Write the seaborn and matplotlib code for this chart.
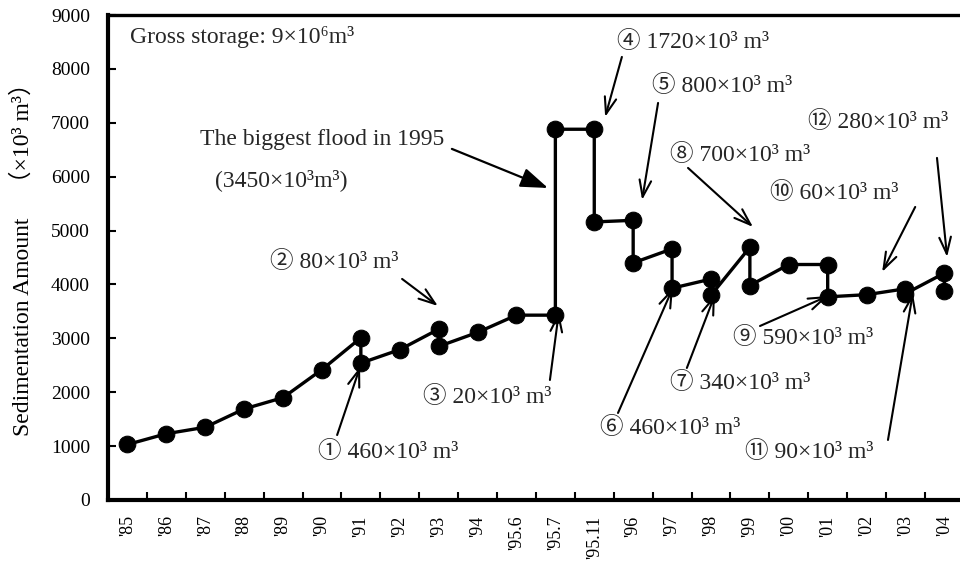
import matplotlib
matplotlib.use("Agg")
import matplotlib.pyplot as plt
import seaborn as sns
import pandas as pd
import numpy as np

# ---- data ----
categories = ["'85", "'86", "'87", "'88", "'89", "'90", "'91", "'92", "'93", "'94",
              "'95.6", "'95.7", "'95.11", "'96", "'97", "'98", "'99", "'00", "'01",
              "'02", "'03", "'04"]
path_cats = ["'85", "'86", "'87", "'88", "'89", "'90", "'91", "'91", "'92", "'93", "'93",
             "'94", "'95.6", "'95.7", "'95.7", "'95.11", "'95.11", "'96", "'96", "'97", "'97",
             "'98", "'98", "'99", "'99", "'00", "'01", "'01", "'02", "'03", "'03", "'04", "'04"]
path_vals = [1030, 1230, 1350, 1690, 1900, 2420, 3010, 2540, 2790, 3170, 2850,
             3110, 3430, 3430, 6880, 6880, 5160, 5190, 4400, 4660, 3930,
             4100, 3800, 4690, 3980, 4370, 4370, 3770, 3810, 3920, 3830, 4210, 3880]
yticks = list(range(0, 9001, 1000))

ann_texts = ["\u2460 460\u00d710\u00b3 m\u00b3", "\u2461 80\u00d710\u00b3 m\u00b3",
             "\u2462 20\u00d710\u00b3 m\u00b3", "\u2463 1720\u00d710\u00b3 m\u00b3",
             "\u2464 800\u00d710\u00b3 m\u00b3", "\u2465 460\u00d710\u00b3 m\u00b3",
             "\u2466 340\u00d710\u00b3 m\u00b3", "\u2467 700\u00d710\u00b3 m\u00b3",
             "\u2468 590\u00d710\u00b3 m\u00b3", "\u2469 60\u00d710\u00b3 m\u00b3",
             "\u246a 90\u00d710\u00b3 m\u00b3", "\u246b 280\u00d710\u00b3 m\u00b3"]

FAM = ["Liberation Serif", "Noto Sans CJK JP", "DejaVu Sans"]

sns.set_theme(style="white")
plt.rcParams["font.family"] = FAM

df = pd.DataFrame({
    "x": [categories.index(c) for c in path_cats],
    "y": path_vals,
})

fig = plt.figure(figsize=(9.6, 5.66), dpi=100)
ax = fig.add_axes([108 / 960, 66 / 566, 850 / 960, 485 / 566])

sns.lineplot(data=df, x="x", y="y", sort=False, estimator=None, errorbar=None,
             color="black", linewidth=2.4, marker="o", markersize=12,
             markeredgecolor="black", markerfacecolor="black", ax=ax)

# axes styling
ax.set_xlim(-0.5, 21.35)
ax.set_ylim(0, 9000)
ax.set_yticks(yticks)
ax.set_yticklabels([str(v) for v in yticks])
ax.set_xticks(range(len(categories)))
ax.set_xticklabels(categories, rotation=90)
ax.set_xticks(np.arange(0.5, len(categories) - 0.5, 1.0), minor=True)
ax.tick_params(axis="x", which="major", length=0, pad=11, labelsize=13)
ax.tick_params(axis="x", which="minor", direction="in", length=6, width=1.5,
               color="black", bottom=True)
ax.tick_params(axis="y", which="major", direction="in", length=6, width=1.5,
               color="black", pad=13, labelsize=14, left=True)
for lab in ax.get_xticklabels() + ax.get_yticklabels():
    lab.set_family(FAM)
    lab.set_color("black")

ax.spines["left"].set_linewidth(3.0)
ax.spines["bottom"].set_linewidth(3.0)
ax.spines["top"].set_linewidth(2.4)
ax.spines["right"].set_visible(False)
for s in ("left", "bottom", "top"):
    ax.spines[s].set_color("black")

ax.set_xlabel("")
ax.set_ylabel("Sedimentation Amount    \uff08\u00d710\u00b3 m\u00b3\uff09", fontsize=17,
              color="black", family=FAM)
ax.yaxis.set_label_coords(-0.087, 0.508)

TS = 17
ax.text(0.07, 8600, "Gross storage: 9\u00d710\u2076m\u00b3", fontsize=TS,
        va="center", ha="left", family=FAM)

# biggest flood annotation
ax.text(1.87, 6690, "The biggest flood in 1995", fontsize=TS, va="center",
        ha="left", family=FAM)
ax.text(2.25, 5940, "(3450\u00d710\u00b3m\u00b3)", fontsize=TS, va="center",
        ha="left", family=FAM)
ax.annotate("", xy=(10.81, 5790), xytext=(8.34, 6515),
            arrowprops=dict(arrowstyle="-|>,head_length=1.4,head_width=0.5",
                            color="black", lw=1.6, shrinkA=0, shrinkB=0))

# numbered annotations: text position, arrow start, arrow end (data coords)
text_pos = [(4.90, 891), (3.66, 4417), (7.60, 1912), (12.58, 8500), (13.48, 7684),
            (12.15, 1336), (13.95, 2172), (13.95, 6403), (15.57, 3007), (16.52, 5698),
            (15.88, 891), (17.49, 7016)]
arrow_from = [(5.39, 1206), (7.06, 4102), (10.86, 2227), (12.71, 8222), (13.64, 7368),
              (12.61, 1615), (14.38, 2450), (14.41, 6162), (16.26, 3229), (20.25, 5438),
              (19.55, 1114), (20.81, 6348)]
arrow_to = [(5.98, 2468), (7.98, 3601), (11.09, 3489), (12.28, 7108), (13.23, 5568),
            (14.02, 3935), (15.10, 3805), (16.08, 5067), (18.01, 3786), (19.40, 4232),
            (20.19, 3842), (21.07, 4510)]

for t, p, a, b in zip(ann_texts, text_pos, arrow_from, arrow_to):
    ax.text(p[0], p[1], t, fontsize=TS, va="center", ha="left", family=FAM)
    ax.annotate("", xy=b, xytext=a,
                arrowprops=dict(arrowstyle="->,head_length=1.0,head_width=0.35",
                                color="black", lw=1.5, shrinkA=0, shrinkB=0))

fig.savefig("out.png", dpi=100, facecolor="white")
